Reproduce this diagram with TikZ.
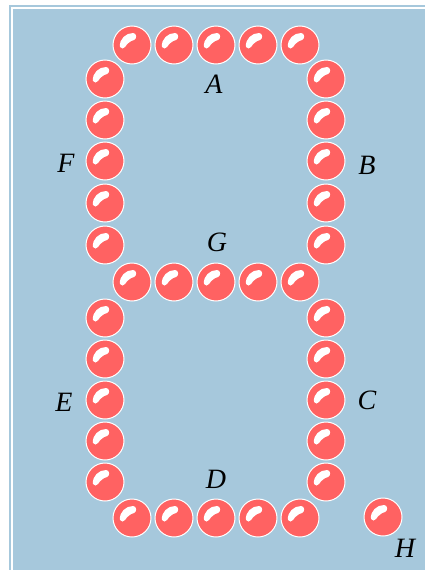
\documentclass[tikz,border=0pt]{standalone}
\usepackage{fontspec}
\setmainfont{Liberation Serif}
\definecolor{bgblue}{HTML}{A6C8DC}
\definecolor{ledred}{HTML}{FF6262}
\tikzset{
  x=1pt, y=-1pt,
  led/.style={circle, fill=ledred, draw=white, line width=1pt, minimum size=38pt, inner sep=0pt},
  seglabel/.style={inner sep=0pt, font=\fontsize{28}{32}\selectfont\itshape}
}
\begin{document}
\begin{tikzpicture}
\useasboundingbox (0,0) rectangle (424,570);
\fill[white] (0,0) rectangle (424,570);
\fill[bgblue] (9,5) rectangle (440,590);
\draw[white, line width=2pt] (12,8) rectangle (440,590);
% LEDs
\foreach \n/\px/\py in {
  a1/132/45, a2/174/45, a3/216/45, a4/258/45, a5/300/45,
  f1/105/79, f2/105/120, f3/105/161, f4/105/203, f5/105/245,
  b1/326/79, b2/326/120, b3/326/161, b4/326/203, b5/326/245,
  g1/132/282, g2/174/282, g3/216/282, g4/258/282, g5/300/282,
  e1/105/318, e2/105/359, e3/105/400, e4/105/441, e5/105/482,
  c1/326/318, c2/326/359, c3/326/400, c4/326/441, c5/326/482,
  d1/132/518, d2/174/518, d3/216/518, d4/258/518, d5/300/518,
  h1/383/517}{
  \node[led] (\n) at (\px,\py) {};
  \begin{scope}[shift={(\n.center)}]
    \fill[white] (-12,2) .. controls (-13,-6) and (-6,-12) .. (1,-12)
      .. controls (5,-12) and (5,-6) .. (2,-5)
      .. controls (-2,-4) and (-5,-1) .. (-7,2)
      .. controls (-8,4) and (-11,4) .. (-12,2) -- cycle;
  \end{scope}
}
% labels
\node[seglabel] (labA) at (214,84) {A};
\node[seglabel] (labF) at (66,163) {F};
\node[seglabel] (labB) at (367,165) {B};
\node[seglabel] (labG) at (217,242) {G};
\node[seglabel] (labE) at (64,402) {E};
\node[seglabel] (labC) at (367,400) {C};
\node[seglabel] (labD) at (216,479) {D};
\node[seglabel] (labH) at (405,548) {H};
\end{tikzpicture}
\end{document}
